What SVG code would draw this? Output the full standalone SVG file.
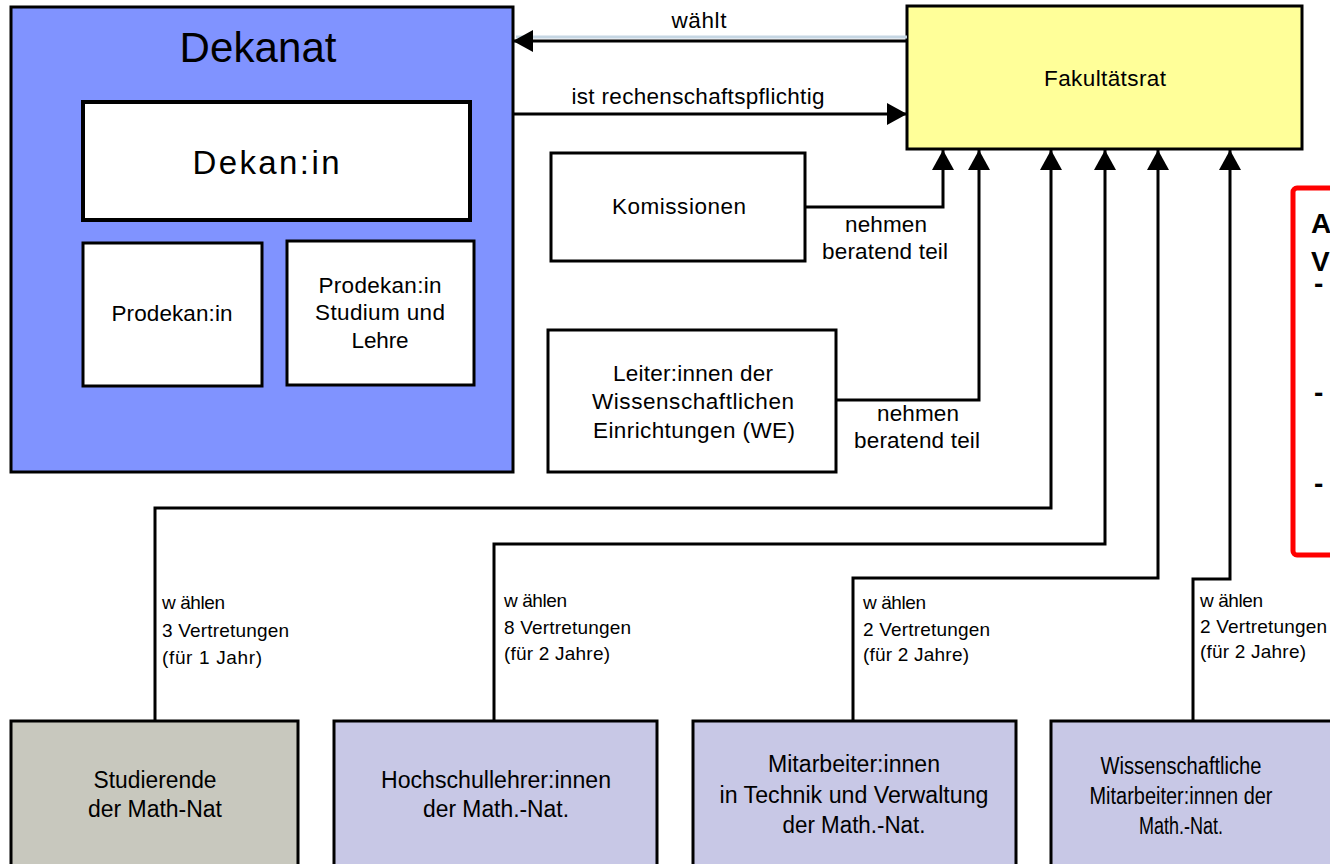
<svg xmlns="http://www.w3.org/2000/svg" width="1330" height="864" viewBox="0 0 1330 864">
<style>
text{font-family:"Liberation Sans",Arial,sans-serif;fill:#000}
.box{stroke:#000;stroke-width:3;fill:#fff}
.c{text-anchor:middle}
.t22{font-size:22.5px}
.t23{font-size:23px}
.t18{font-size:19px}
.con{fill:none;stroke:#000;stroke-width:3;stroke-linejoin:miter}
.dash{font-size:28px;font-weight:bold}
</style>
<defs>
<marker id="ah" markerUnits="userSpaceOnUse" markerWidth="22" markerHeight="22" refX="20" refY="11" orient="auto">
<path d="M0,0 L20,11 L0,22 z" fill="#000"/>
</marker>
</defs>
<rect width="1330" height="864" fill="#fff"/>

<g id="dekanat">
<rect class="box" x="11" y="7" width="502" height="465" style="fill:#8093FF"/>
<text class="c" x="258" y="62" font-size="42" textLength="157">Dekanat</text>
</g>
<g id="dekanin">
<rect class="box" x="83" y="102" width="387" height="118" style="stroke-width:4"/>
<text class="c" x="266" y="174" font-size="33" textLength="147">Dekan:in</text>
</g>
<g id="prodekanin">
<rect class="box" x="83" y="243" width="179" height="143"/>
<text class="c t22" x="172" y="321" textLength="121">Prodekan:in</text>
</g>
<g id="prodekanin-sl">
<rect class="box" x="287" y="241" width="187" height="144"/>
<text class="c t22" x="380" y="293" textLength="123">Prodekan:in</text>
<text class="c t22" x="380" y="320" textLength="130">Studium und</text>
<text class="c t22" x="380" y="348" textLength="57">Lehre</text>
</g>
<g id="fakultaetsrat">
<rect class="box" x="907" y="6" width="395" height="143" style="fill:#FFFF99"/>
<text class="c t22" x="1105" y="86" textLength="122">Fakultätsrat</text>
</g>
<g id="komissionen">
<rect class="box" x="551" y="153" width="254" height="108"/>
<text class="c t22" x="679" y="214" textLength="134">Komissionen</text>
</g>
<g id="leiter">
<rect class="box" x="548" y="330" width="288" height="142"/>
<text class="c t22" x="693" y="381" textLength="160">Leiter:innen der</text>
<text class="c t22" x="693" y="409" textLength="202">Wissenschaftlichen</text>
<text class="c t22" x="694" y="438" textLength="202">Einrichtungen (WE)</text>
</g>
<g id="studierende">
<rect class="box" x="11" y="721" width="287" height="170" style="fill:#C8C8BE"/>
<text class="c t23" x="155" y="788" textLength="123" lengthAdjust="spacingAndGlyphs">Studierende</text>
<text class="c t23" x="155" y="817" textLength="134" lengthAdjust="spacingAndGlyphs">der Math-Nat</text>
</g>
<g id="hochschullehrer">
<rect class="box" x="334" y="721" width="323" height="170" style="fill:#C8C8E6"/>
<text class="c t23" x="496" y="788" textLength="230" lengthAdjust="spacingAndGlyphs">Hochschullehrer:innen</text>
<text class="c t23" x="496" y="817" textLength="146" lengthAdjust="spacingAndGlyphs">der Math.-Nat.</text>
</g>
<g id="mitarbeiter-tv">
<rect class="box" x="693" y="721" width="323" height="170" style="fill:#C8C8E6"/>
<text class="c t23" x="854" y="772" textLength="172" lengthAdjust="spacingAndGlyphs">Mitarbeiter:innen</text>
<text class="c t23" x="854" y="803" textLength="269" lengthAdjust="spacingAndGlyphs">in Technik und Verwaltung</text>
<text class="c t23" x="854" y="833" textLength="143" lengthAdjust="spacingAndGlyphs">der Math.-Nat.</text>
</g>
<g id="wiss-mitarbeiter">
<rect class="box" x="1051" y="721" width="300" height="170" style="fill:#C8C8E6"/>
<text class="c t23" x="1181" y="774" textLength="161" lengthAdjust="spacingAndGlyphs">Wissenschaftliche</text>
<text class="c t23" x="1181" y="804" textLength="183" lengthAdjust="spacingAndGlyphs">Mitarbeiter:innen der</text>
<text class="c t23" x="1181" y="834" textLength="84" lengthAdjust="spacingAndGlyphs">Math.-Nat.</text>
</g>
<g id="hinweis">
<rect x="1293" y="188" width="60" height="367" rx="4" fill="#fff" stroke="#FF0000" stroke-width="5"/>
<text x="1311" y="233" font-size="28" font-weight="bold">A</text>
<text x="1311" y="271" font-size="28" font-weight="bold">V</text>
<text class="dash" x="1314" y="293">-</text>
<text class="dash" x="1314" y="402">-</text>
<text class="dash" x="1314" y="493">-</text>
</g>

<g id="connectors">
<line x1="516" y1="37" x2="907" y2="37" stroke="#C5D6E3" stroke-width="3"/>
<line class="con" x1="907" y1="41" x2="513" y2="41" marker-end="url(#ah)"/>
<line class="con" x1="513" y1="114" x2="907" y2="114" marker-end="url(#ah)"/>
<path class="con" d="M805,207 H943 V150" marker-end="url(#ah)"/>
<path class="con" d="M836,400 H979 V150" marker-end="url(#ah)"/>
<path class="con" d="M155,721 V508 H1051 V150" marker-end="url(#ah)"/>
<path class="con" d="M494,721 V544 H1105 V150" marker-end="url(#ah)"/>
<path class="con" d="M853,721 V578 H1158 V150" marker-end="url(#ah)"/>
<path class="con" d="M1193,721 V579 H1230 V150" marker-end="url(#ah)"/>
<text class="c t22" x="699" y="28" textLength="55">wählt</text>
<text class="c t22" x="698" y="104" textLength="253">ist rechenschaftspflichtig</text>
<text class="c t22" x="886" y="232" textLength="82">nehmen</text>
<text class="c t22" x="885" y="259" textLength="126">beratend teil</text>
<text class="c t22" x="918" y="421" textLength="82">nehmen</text>
<text class="c t22" x="917" y="448" textLength="126">beratend teil</text>
<text class="t18" x="162" y="609" textLength="63">w ählen</text>
<text class="t18" x="162" y="637" textLength="127">3 Vertretungen</text>
<text class="t18" x="162" y="664" textLength="100">(für 1 Jahr)</text>
<text class="t18" x="504" y="607" textLength="63">w ählen</text>
<text class="t18" x="504" y="634" textLength="127">8 Vertretungen</text>
<text class="t18" x="504" y="660" textLength="106">(für 2 Jahre)</text>
<text class="t18" x="863" y="609" textLength="63">w ählen</text>
<text class="t18" x="863" y="636" textLength="127">2 Vertretungen</text>
<text class="t18" x="863" y="661" textLength="106">(für 2 Jahre)</text>
<text class="t18" x="1200" y="607" textLength="63">w ählen</text>
<text class="t18" x="1200" y="633" textLength="127">2 Vertretungen</text>
<text class="t18" x="1200" y="658" textLength="106">(für 2 Jahre)</text>
</g>
</svg>
